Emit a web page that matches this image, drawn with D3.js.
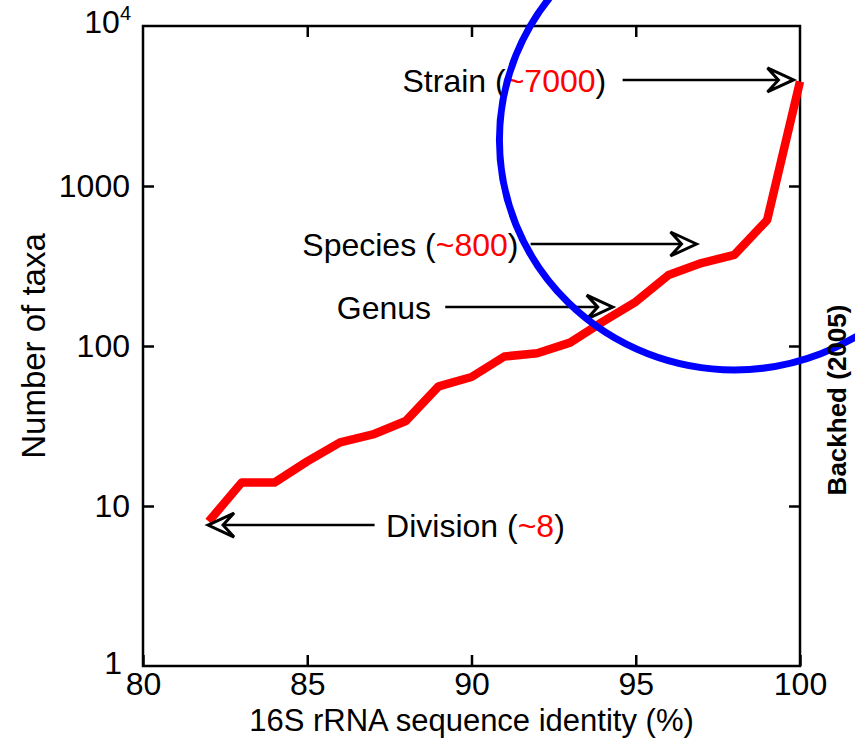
<!DOCTYPE html>
<html>
<head>
<meta charset="utf-8">
<script src="https://cdn.jsdelivr.net/npm/d3@7"></script>
<style>
  body { margin: 0; background: #fff; }
  svg text { font-family: "Liberation Sans", Arial, sans-serif; }
  .axis path.domain { display: none; }
  .axis line { stroke: #000; stroke-width: 2.5; }
  .axis text { font-size: 32px; fill: #000; }
</style>
</head>
<body>
<div id="chart"></div>
<script>
// ----- data -----
var identity = [82, 83, 84, 85, 86, 87, 88, 89, 90, 91, 92, 93, 94, 95, 96, 97, 98, 99, 100];
var taxa = [8, 14, 14, 19, 25, 28, 34, 56, 64, 86, 90, 105, 142, 189, 278, 330, 371, 613, 4500];

var xTicks = [80, 85, 90, 95, 100];
var yTicks = [10, 100, 1000];

// annotations: label, red part, arrow tip (x, y), line start x, text start x
var notes = [
  { label: "Strain (", value: "~7000", tail: ")", y: 4600, tip: 99.8, from: 94.6, textX: 87.9 },
  { label: "Species (", value: "~800", tail: ")", y: 434, tip: 96.85, from: 91.8, textX: 84.85 },
  { label: "Genus", value: "", tail: "", y: 175, tip: 94.3, from: 89.2, textX: 85.9 },
  { label: "Division (", value: "~8", tail: ")", y: 7.6, tip: 81.98, from: 87.05, textX: 87.4 }
];

var W = 855, H = 744;
var margin = { top: 26, right: 55, bottom: 78, left: 143 },
    width = W - margin.left - margin.right,
    height = H - margin.top - margin.bottom;

var x = d3.scaleLinear().domain([80, 100]).range([0, width]);
var y = d3.scaleLog().domain([1, 10000]).range([height, 0]);

var svg = d3.select("#chart").append("svg")
    .attr("width", W)
    .attr("height", H);

var g = svg.append("g")
    .attr("transform", "translate(" + margin.left + "," + margin.top + ")");

// bottom / top axes (ticks inward)
g.append("g")
    .attr("class", "axis")
    .attr("transform", "translate(0," + height + ")")
    .call(d3.axisBottom(x).tickValues(xTicks).tickSizeInner(-11).tickSizeOuter(0).tickPadding(6).tickFormat(d3.format("d")));
g.append("g")
    .attr("class", "axis")
    .call(d3.axisTop(x).tickValues([85, 90, 95]).tickSizeInner(-11).tickSizeOuter(0).tickFormat(""));

// left / right axes
g.append("g")
    .attr("class", "axis")
    .call(d3.axisLeft(y).tickValues(yTicks).tickSizeInner(-11).tickSizeOuter(0).tickPadding(13).tickFormat(d3.format("d")));
g.append("g")
    .attr("class", "axis")
    .attr("transform", "translate(" + width + ",0)")
    .call(d3.axisRight(y).tickValues(yTicks).tickSizeInner(-11).tickSizeOuter(0).tickFormat(""));

// end labels on y axis
g.append("text")
    .attr("x", -21)
    .attr("y", y(1) + 8)
    .attr("text-anchor", "end")
    .style("font-size", "32px")
    .text("1");
var topLabel = g.append("text")
    .attr("x", -12)
    .attr("y", y(10000) + 7)
    .attr("text-anchor", "end")
    .style("font-size", "32px");
topLabel.append("tspan").text("10");
topLabel.append("tspan").attr("dy", -13).style("font-size", "20px").text("4");

// frame
g.append("rect")
    .attr("width", width)
    .attr("height", height)
    .attr("fill", "none")
    .attr("stroke", "#000")
    .attr("stroke-width", 2.5);

// red curve
var line = d3.line()
    .x(function (d) { return x(d[0]); })
    .y(function (d) { return y(d[1]); });
g.append("path")
    .datum(d3.zip(identity, taxa))
    .attr("d", line)
    .attr("fill", "none")
    .attr("stroke", "#ff0000")
    .attr("stroke-width", 8.5)
    .attr("stroke-linejoin", "round");

// annotations with open arrowheads
notes.forEach(function (n) {
    var yy = y(n.y), x0 = x(n.from), x1 = x(n.tip);
    var dir = x1 > x0 ? 1 : -1;
    var L = 26, Wd = 12, notch = 11;
    g.append("line")
        .attr("x1", x0).attr("x2", x1 - dir * (L - notch))
        .attr("y1", yy).attr("y2", yy)
        .attr("stroke", "#000").attr("stroke-width", 2.5);
    g.append("path")
        .attr("d", "M" + x1 + "," + yy +
            "L" + (x1 - dir * L) + "," + (yy - Wd) +
            "L" + (x1 - dir * (L - notch)) + "," + yy +
            "L" + (x1 - dir * L) + "," + (yy + Wd) + "Z")
        .attr("fill", "#fff")
        .attr("stroke", "#000")
        .attr("stroke-width", 3)
        .attr("stroke-linejoin", "miter");
    var t = g.append("text")
        .attr("x", x(n.textX))
        .attr("y", yy + 12)
        .style("font-size", "32px");
    t.append("tspan").text(n.label);
    if (n.value) {
        t.append("tspan").attr("fill", "#ff0000").text(n.value);
        t.append("tspan").text(n.tail);
    }
});

// axis titles
svg.append("text")
    .attr("x", margin.left + width / 2)
    .attr("y", 731)
    .attr("text-anchor", "middle")
    .style("font-size", "31px")
    .text("16S rRNA sequence identity (%)");
svg.append("text")
    .attr("transform", "translate(45," + (margin.top + y(100)) + ") rotate(-90)")
    .attr("text-anchor", "middle")
    .style("font-size", "33px")
    .text("Number of taxa");
svg.append("text")
    .attr("transform", "translate(846,400) rotate(-90)")
    .attr("text-anchor", "middle")
    .style("font-size", "26px")
    .style("font-weight", "bold")
    .text("Backhed (2005)");

// blue highlight ellipse (centre and radii in data units)
var cx = x(98), cy = y(1940);
g.append("ellipse")
    .attr("cx", cx)
    .attr("cy", cy)
    .attr("rx", x(98 + 7.15) - cx)
    .attr("ry", cy - y(1940 * Math.pow(10, 1.4375)))
    .attr("fill", "none")
    .attr("stroke", "#0000ff")
    .attr("stroke-width", 7);
</script>
</body>
</html>
